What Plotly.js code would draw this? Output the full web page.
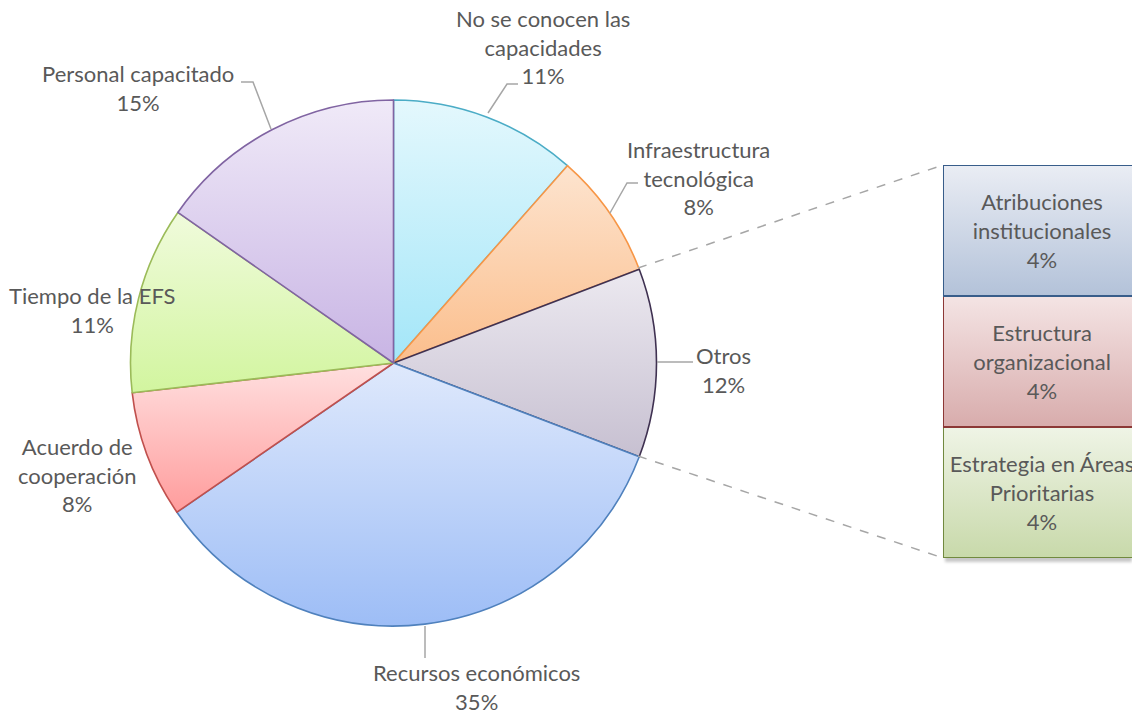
<!DOCTYPE html>
<html>
<head>
<meta charset="utf-8">
<script src="https://cdn.plot.ly/plotly-3.0.1.min.js"></script>
<style>html,body{margin:0;padding:0;background:#fff;}#chart{width:1132px;height:712px;}</style>
</head>
<body>
<div id="chart"></div>
<script>
// ---- data ----
const pieLabels = ["No se conocen las<br>capacidades", "Infraestructura<br>tecnológica", "Otros", "Recursos económicos", "Acuerdo de<br>cooperación", "Tiempo de la EFS", "Personal capacitado"];
const pieValues = [11.5, 7.7, 11.6, 34.6, 7.8, 11.5, 15.3];
const piePercent = ["11%", "8%", "12%", "35%", "8%", "11%", "15%"];

const barLabels = ["Estrategia en Áreas<br>Prioritarias", "Estructura<br>organizacional", "Atribuciones<br>institucionales"];
const barValues = [3.85, 3.85, 3.85];
const barPercent = ["4%", "4%", "4%"];

// ---- styles ----
const W = 1132, H = 712;
const FONT = "Lato, 'Open Sans', sans-serif";
const TXT = "#595959";
const FS = 22;
const pieFill = ["#C8EFFA", "#FCD3B0", "#DAD5E1", "#C0D5F9", "#FFC6C6", "#E2F8BE", "#DCD0EE"];
const pieLine = ["#4BACC6", "#F79646", "#3F3151", "#4F81BD", "#C0504D", "#9BBB59", "#8064A2"];
const pieGrad = [["#E4F8FD", "#A3E6F8"], ["#FDE4CF", "#FBBE8C"], ["#ECE9F0", "#C7C0D1"], ["#DFE9FC", "#9DBDF6"], ["#FFE0E0", "#FF9C9C"], ["#F0FBDC", "#D2F59F"], ["#F0EAF8", "#C8B4E4"]];
const barFill = ["#DCE6CB", "#E6C7C7", "#CFD7E5"];
const barLine = ["#71893F", "#8C3836", "#385D8A"];
const barGrad = [["#EFF4E6", "#C8D9AA"], ["#F4E4E4", "#D8ACAC"], ["#EAEDF4", "#B3C2D9"]];

const px = x => x / W;
const py = y => 1 - y / H;
function pathPx(pts) {
  return pts.map((p, i) => (i ? "L" : "M") + px(p[0]).toFixed(5) + "," + py(p[1]).toFixed(5)).join(" ");
}

const traces = [{
  type: "pie",
  labels: pieLabels,
  values: pieValues,
  sort: false,
  direction: "clockwise",
  rotation: 0,
  textinfo: "none",
  hoverinfo: "none",
  marker: { colors: pieFill, line: { color: pieLine, width: 1.6 } },
  domain: { x: [130 / W, 657 / W], y: [py(626), py(100)] },
  showlegend: false
}];

barLabels.forEach((lab, i) => {
  traces.push({
    type: "bar",
    x: [0],
    y: [barValues[i]],
    width: [1],
    xaxis: "x", yaxis: "y",
    text: [lab + "<br>" + barPercent[i]],
    textposition: "inside",
    insidetextanchor: "middle",
    constraintext: "none",
    textangle: 0,
    insidetextfont: { family: FONT, size: FS, color: TXT },
    marker: { color: barFill[i], line: { color: barLine[i], width: 1.6 } },
    hoverinfo: "none",
    showlegend: false
  });
});

const labelPos = [[543, 47], [698, 178], [723, 370], [476, 687], [77, 475], [92, 310], [138, 88]];
const annotations = pieLabels.map((lab, i) => ({
  xref: "paper", yref: "paper",
  x: px(labelPos[i][0]), y: py(labelPos[i][1]),
  xanchor: "center", yanchor: "middle",
  text: lab + "<br>" + piePercent[i],
  showarrow: false, align: "center",
  font: { family: FONT, size: FS, color: TXT }
}));

const leaderColor = "#A6A6A6";
const leaders = [
  [[488, 113], [507, 84], [518, 84]],
  [[610, 213], [627, 183], [638, 183]],
  [[657, 362], [693, 362]],
  [[425, 626], [425, 658]],
  [[271, 129], [253, 82], [241, 82]]
];
const shapes = leaders.map(p => ({
  type: "path", xref: "paper", yref: "paper", path: pathPx(p),
  line: { color: leaderColor, width: 1.5 }, layer: "above"
}));
shapes.push({ type: "path", xref: "paper", yref: "paper", path: pathPx([[638, 268], [943, 165]]), line: { color: "#A6A6A6", width: 1.5, dash: "dash" } });
shapes.push({ type: "path", xref: "paper", yref: "paper", path: pathPx([[638, 456], [943, 558]]), line: { color: "#A6A6A6", width: 1.5, dash: "dash" } });
// soft drop shadow behind the bar
shapes.push({ type: "rect", xref: "paper", yref: "paper", x0: px(945), x1: 1, y0: py(562), y1: py(168), fillcolor: "rgba(0,0,0,0.22)", line: { width: 0 }, layer: "below" });

const total = barValues.reduce((a, b) => a + b, 0);
const layout = {
  width: W, height: H,
  margin: { l: 0, r: 0, t: 0, b: 0 },
  paper_bgcolor: "#ffffff", plot_bgcolor: "rgba(0,0,0,0)",
  showlegend: false,
  barmode: "stack",
  xaxis: { domain: [943 / W, 1], range: [-0.5, 0.4545], visible: false, fixedrange: true },
  yaxis: { domain: [py(558), py(165)], range: [0, total], visible: false, fixedrange: true },
  annotations: annotations,
  shapes: shapes,
  font: { family: FONT, color: TXT }
};

Plotly.newPlot("chart", traces, layout, { staticPlot: true, displayModeBar: false }).then(gd => {
  const svg = gd.querySelector("svg.main-svg");
  let defs = svg.querySelector("defs");
  const NS = "http://www.w3.org/2000/svg";
  function grad(id, c) {
    const g = document.createElementNS(NS, "linearGradient");
    g.setAttribute("id", id);
    g.setAttribute("x1", "0"); g.setAttribute("y1", "0");
    g.setAttribute("x2", "0"); g.setAttribute("y2", "1");
    [[0, c[0]], [1, c[1]]].forEach(s => {
      const st = document.createElementNS(NS, "stop");
      st.setAttribute("offset", s[0]);
      st.setAttribute("stop-color", s[1]);
      g.appendChild(st);
    });
    defs.appendChild(g);
  }
  pieGrad.forEach((c, i) => grad("pg" + i, c));
  barGrad.forEach((c, i) => grad("bg" + i, c));
  gd.querySelectorAll("g.slice path.surface").forEach((p, i) => { p.style.fill = "url(#pg" + i + ")"; });
  gd.querySelectorAll("g.barlayer g.trace").forEach((t, i) => {
    t.querySelectorAll("g.point path").forEach(p => { p.style.fill = "url(#bg" + i + ")"; });
  });
  // shadow shape should sit behind the bars: blur it slightly
  const flt = document.createElementNS(NS, "filter");
  flt.setAttribute("id", "shblur");
  const gb = document.createElementNS(NS, "feGaussianBlur");
  gb.setAttribute("stdDeviation", "1.5");
  flt.appendChild(gb);
  defs.appendChild(flt);
  gd.querySelectorAll(".layer-below .shapelayer path").forEach(p => p.setAttribute("filter", "url(#shblur)"));
});
</script>
</body>
</html>
